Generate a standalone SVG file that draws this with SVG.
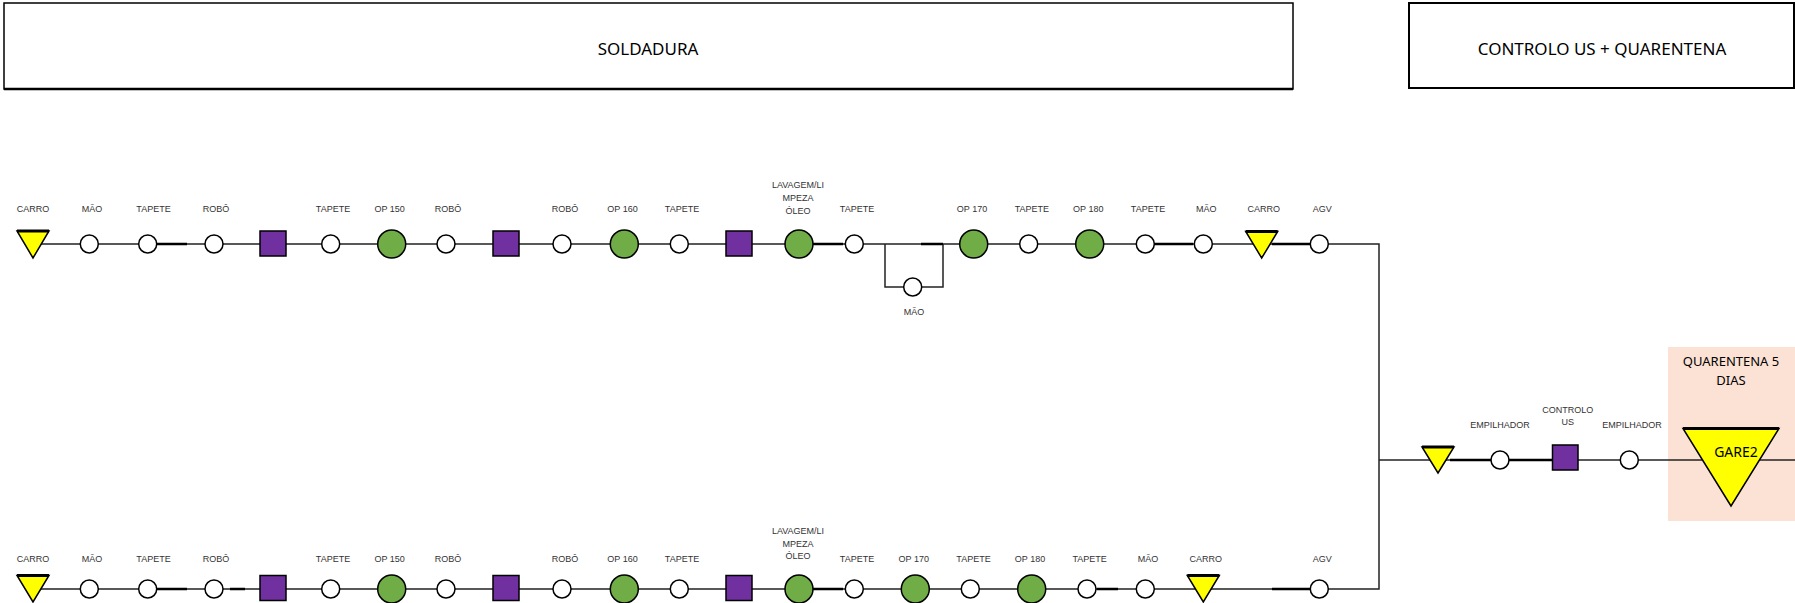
<svg xmlns="http://www.w3.org/2000/svg" width="1795" height="603" viewBox="0 0 1795 603">
<style>
.c{fill:#fff;stroke:#000;stroke-width:1.5}
.g{fill:#70AD47;stroke:#000;stroke-width:1.5}
.s{fill:#7030A0;stroke:#000;stroke-width:1.5}
.t{fill:#FFFF00;stroke:#000;stroke-width:1.5}
.tt{stroke:#000;stroke-width:3}
.lbl{font-family:"Liberation Sans",Arial,sans-serif;font-size:9px;fill:#333;text-anchor:middle}
.ttl{font-family:"Noto Sans","Open Sans",sans-serif;font-size:17px;fill:#000;text-anchor:middle}
.ln{stroke:#222;stroke-width:1.5;fill:none}
.thk{stroke:#000;stroke-width:2.5;fill:none}
</style>

<g id="hdr-soldadura">
<rect x="4" y="3" width="1289" height="86" fill="#fff" stroke="#000" stroke-width="1.5"/>
<line x1="4" y1="89" x2="1293" y2="89" stroke="#000" stroke-width="2.5"/>
<text class="ttl" x="648" y="55">SOLDADURA</text>
</g>
<g id="hdr-controlo">
<rect x="1409" y="3" width="385" height="85" fill="#fff" stroke="#000" stroke-width="2"/>
<text class="ttl" x="1602" y="55">CONTROLO US + QUARENTENA</text>
</g>

<g id="quarentena-zone">
<rect x="1668" y="347" width="127" height="174" fill="#FBE2D5"/>
<text class="ttl" style="font-size:13px" x="1731" y="365.5">QUARENTENA 5</text>
<text class="ttl" style="font-size:13px" x="1731" y="385">DIAS</text>
</g>

<g id="connectors">
<path class="ln" d="M33 244 H1379 V589 H33"/>
<path class="ln" d="M885 244 V287 H943 V244"/>
<path class="ln" d="M1379 460 H1795"/>
<path class="thk" d="M157 244 H187 M813 244 H843 M921 244 H943 M1153 244 H1193 M1272 244 H1310"/>
<path class="thk" d="M157 589 H187 M230 589 H245 M813 589 H843 M1097 589 H1118 M1272 589 H1310"/>
<path class="thk" d="M1450 460 H1492 M1509 460 H1553"/>
</g>

<!-- Row 1 -->
<g id="r1-carro"><polygon class="t" points="17,231 49,231 33,258"/><line class="tt" x1="17" y1="231" x2="49" y2="231"/><text class="lbl" x="33" y="212">CARRO</text></g>
<g id="r1-mao1"><circle class="c" cx="89.3" cy="244" r="9"/><text class="lbl" x="92" y="212">MÃO</text></g>
<g id="r1-tapete1"><circle class="c" cx="147.7" cy="244" r="9"/><text class="lbl" x="153.5" y="212">TAPETE</text></g>
<g id="r1-robo1"><circle class="c" cx="214" cy="244" r="9"/><text class="lbl" x="216" y="212">ROBÔ</text></g>
<g id="r1-sq1"><rect class="s" x="260" y="231" width="26" height="25"/></g>
<g id="r1-tapete2"><circle class="c" cx="330.7" cy="244" r="9"/><text class="lbl" x="333" y="212">TAPETE</text></g>
<g id="r1-op150"><circle class="g" cx="391.7" cy="244" r="14"/><text class="lbl" x="389.7" y="212">OP 150</text></g>
<g id="r1-robo2"><circle class="c" cx="446" cy="244" r="9"/><text class="lbl" x="448" y="212">ROBÔ</text></g>
<g id="r1-sq2"><rect class="s" x="493" y="231" width="26" height="25"/></g>
<g id="r1-robo3"><circle class="c" cx="562" cy="244" r="9"/><text class="lbl" x="565" y="212">ROBÔ</text></g>
<g id="r1-op160"><circle class="g" cx="624.3" cy="244" r="14"/><text class="lbl" x="622.5" y="212">OP 160</text></g>
<g id="r1-tapete3"><circle class="c" cx="679.3" cy="244" r="9"/><text class="lbl" x="682" y="212">TAPETE</text></g>
<g id="r1-sq3"><rect class="s" x="726" y="231" width="26" height="25"/></g>
<g id="r1-lavagem"><circle class="g" cx="799" cy="244" r="14"/><text class="lbl" x="798" y="188">LAVAGEM/LI</text><text class="lbl" x="798" y="201">MPEZA</text><text class="lbl" x="798" y="214">ÓLEO</text></g>
<g id="r1-tapete4"><circle class="c" cx="854.3" cy="244" r="9"/><text class="lbl" x="857" y="212">TAPETE</text></g>
<g id="r1-mao-loop"><circle class="c" cx="912.7" cy="287" r="9"/><text class="lbl" x="914" y="314.5">MÃO</text></g>
<g id="r1-op170"><circle class="g" cx="973.7" cy="244" r="14"/><text class="lbl" x="972" y="212">OP 170</text></g>
<g id="r1-tapete5"><circle class="c" cx="1028.7" cy="244" r="9"/><text class="lbl" x="1031.8" y="212">TAPETE</text></g>
<g id="r1-op180"><circle class="g" cx="1089.7" cy="244" r="14"/><text class="lbl" x="1088.3" y="212">OP 180</text></g>
<g id="r1-tapete6"><circle class="c" cx="1145.3" cy="244" r="9"/><text class="lbl" x="1148" y="212">TAPETE</text></g>
<g id="r1-mao2"><circle class="c" cx="1203.3" cy="244" r="9"/><text class="lbl" x="1206.3" y="212">MÃO</text></g>
<g id="r1-carro2"><polygon class="t" points="1245.7,231.5 1277.7,231.5 1261.7,258"/><line class="tt" x1="1245.7" y1="231.5" x2="1277.7" y2="231.5"/><text class="lbl" x="1263.8" y="212">CARRO</text></g>
<g id="r1-agv"><circle class="c" cx="1319.3" cy="244" r="9"/><text class="lbl" x="1322.3" y="212">AGV</text></g>

<!-- Row 2 -->
<g id="r2-carro"><polygon class="t" points="17,575.5 49,575.5 33,602"/><line class="tt" x1="17" y1="575.5" x2="49" y2="575.5"/><text class="lbl" x="33" y="562">CARRO</text></g>
<g id="r2-mao1"><circle class="c" cx="89.3" cy="589" r="9"/><text class="lbl" x="92" y="562">MÃO</text></g>
<g id="r2-tapete1"><circle class="c" cx="147.7" cy="589" r="9"/><text class="lbl" x="153.5" y="562">TAPETE</text></g>
<g id="r2-robo1"><circle class="c" cx="214" cy="589" r="9"/><text class="lbl" x="216" y="562">ROBÔ</text></g>
<g id="r2-sq1"><rect class="s" x="260" y="575.5" width="26" height="25"/></g>
<g id="r2-tapete2"><circle class="c" cx="330.7" cy="589" r="9"/><text class="lbl" x="333" y="562">TAPETE</text></g>
<g id="r2-op150"><circle class="g" cx="391.7" cy="589" r="14"/><text class="lbl" x="389.7" y="562">OP 150</text></g>
<g id="r2-robo2"><circle class="c" cx="446" cy="589" r="9"/><text class="lbl" x="448" y="562">ROBÔ</text></g>
<g id="r2-sq2"><rect class="s" x="493" y="575.5" width="26" height="25"/></g>
<g id="r2-robo3"><circle class="c" cx="562" cy="589" r="9"/><text class="lbl" x="565" y="562">ROBÔ</text></g>
<g id="r2-op160"><circle class="g" cx="624.3" cy="589" r="14"/><text class="lbl" x="622.5" y="562">OP 160</text></g>
<g id="r2-tapete3"><circle class="c" cx="679.3" cy="589" r="9"/><text class="lbl" x="682" y="562">TAPETE</text></g>
<g id="r2-sq3"><rect class="s" x="726" y="575.5" width="26" height="25"/></g>
<g id="r2-lavagem"><circle class="g" cx="799" cy="589" r="14"/><text class="lbl" x="798" y="533.5">LAVAGEM/LI</text><text class="lbl" x="798" y="546.5">MPEZA</text><text class="lbl" x="798" y="559">ÓLEO</text></g>
<g id="r2-tapete4"><circle class="c" cx="854.3" cy="589" r="9"/><text class="lbl" x="857" y="562">TAPETE</text></g>
<g id="r2-op170"><circle class="g" cx="915.3" cy="589" r="14"/><text class="lbl" x="913.8" y="562">OP 170</text></g>
<g id="r2-tapete5"><circle class="c" cx="970.3" cy="589" r="9"/><text class="lbl" x="973.5" y="562">TAPETE</text></g>
<g id="r2-op180"><circle class="g" cx="1031.7" cy="589" r="14"/><text class="lbl" x="1030" y="562">OP 180</text></g>
<g id="r2-tapete6"><circle class="c" cx="1087" cy="589" r="9"/><text class="lbl" x="1089.7" y="562">TAPETE</text></g>
<g id="r2-mao2"><circle class="c" cx="1145.3" cy="589" r="9"/><text class="lbl" x="1148" y="562">MÃO</text></g>
<g id="r2-carro2"><polygon class="t" points="1187.3,575.5 1219.3,575.5 1203.3,602"/><line class="tt" x1="1187.3" y1="575.5" x2="1219.3" y2="575.5"/><text class="lbl" x="1205.8" y="562">CARRO</text></g>
<g id="r2-agv"><circle class="c" cx="1319.3" cy="589" r="9"/><text class="lbl" x="1322.3" y="562">AGV</text></g>

<!-- Control / quarantine branch -->
<g id="q-tri"><polygon class="t" points="1422,447 1454,447 1438,473"/><line class="tt" x1="1422" y1="447" x2="1454" y2="447"/></g>
<g id="q-empilhador1"><circle class="c" cx="1500" cy="460" r="9"/><text class="lbl" x="1500" y="428">EMPILHADOR</text></g>
<g id="q-controlo"><rect class="s" x="1552.5" y="445" width="25.5" height="25"/><text class="lbl" x="1567.7" y="412.5">CONTROLO</text><text class="lbl" x="1567.7" y="424.5">US</text></g>
<g id="q-empilhador2"><circle class="c" cx="1629.3" cy="460" r="9"/><text class="lbl" x="1632" y="428">EMPILHADOR</text></g>
<g id="q-gare2"><polygon class="t" points="1683,428.5 1779,428.5 1731,506"/><line class="tt" x1="1683" y1="428.5" x2="1779" y2="428.5"/><text class="ttl" style="font-size:14px" x="1736" y="457">GARE2</text></g>
</svg>
